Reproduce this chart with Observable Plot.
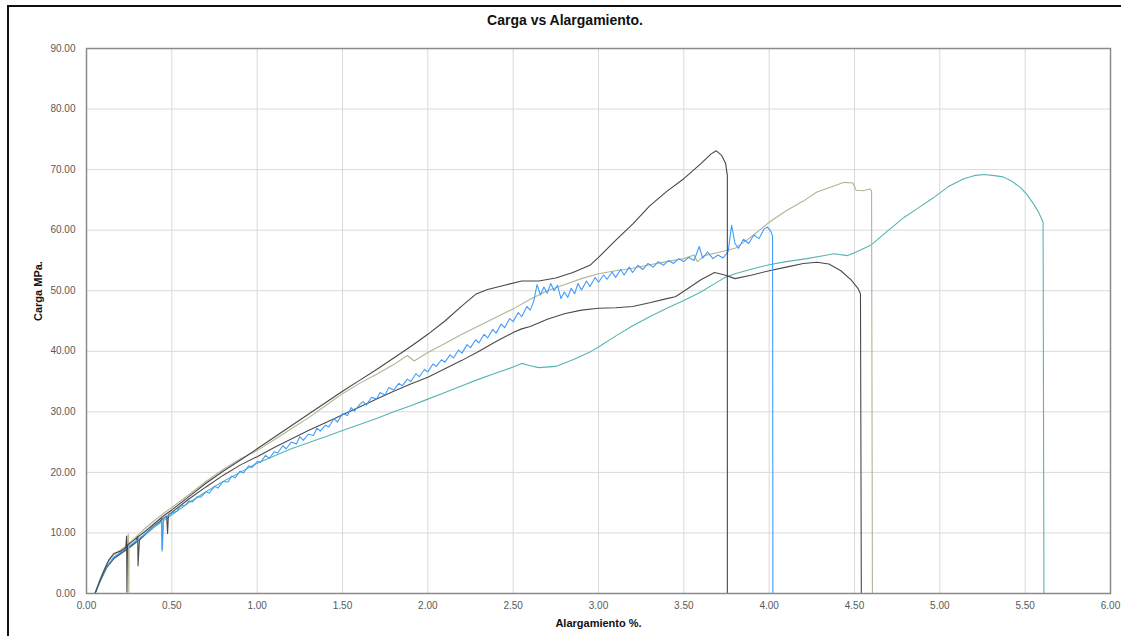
<!DOCTYPE html>
<html>
<head>
<meta charset="utf-8">
<script src="https://cdn.jsdelivr.net/npm/d3@7"></script>
<script src="https://cdn.jsdelivr.net/npm/@observablehq/plot@0.6"></script>
<style>
  html, body { margin: 0; padding: 0; background: #fff; }
  #wrap { position: relative; width: 1121px; height: 636px; overflow: hidden; font-family: "Liberation Sans", Arial, sans-serif; }
  #frameTop { position: absolute; left: 7px; top: 5px; width: 1114px; height: 2px; background: #111; }
  #frameLeft { position: absolute; left: 7px; top: 5px; width: 2px; height: 631px; background: #111; }
  #title { height: 34px; line-height: 40px; text-align: center; font-weight: bold; font-size: 14px; color: #111; padding-left: 9px; }
  #chart svg { display: block; }
</style>
</head>
<body>
<div id="wrap">
  <div id="frameTop"></div>
  <div id="frameLeft"></div>
  <div id="title">Carga vs Alargamiento.</div>
  <div id="chart"></div>
</div>
<script>
const titleText = "Carga vs Alargamiento.";
const xLabel = "Alargamiento %.";
const yLabel = "Carga MPa.";
const xTicks = [0, 0.5, 1, 1.5, 2, 2.5, 3, 3.5, 4, 4.5, 5, 5.5, 6];
const yTicks = [0, 10, 20, 30, 40, 50, 60, 70, 80, 90];

// Probeta con mayor carga (gris oscuro superior)
const serieNegraSup = [[0.05,0],[0.07,1.5],[0.10,3.6],[0.13,5.5],[0.16,6.6],[0.20,7.0],[0.23,7.6],[0.235,9.5],[0.237,0.2],[0.24,8.0],[0.27,8.6],[0.30,9.3],[0.35,10.4],[0.40,11.6],[0.45,12.8],[0.50,13.8],[0.60,16.0],[0.70,18.2],[0.80,20.2],[0.90,22.0],[1.00,23.9],[1.10,25.8],[1.20,27.7],[1.30,29.6],[1.40,31.5],[1.50,33.4],[1.60,35.2],[1.70,37.0],[1.80,38.9],[1.90,40.8],[2.00,42.8],[2.10,45.0],[2.20,47.5],[2.28,49.4],[2.35,50.2],[2.45,50.9],[2.55,51.6],[2.65,51.6],[2.75,52.1],[2.85,53.0],[2.95,54.2],[3.00,55.5],[3.05,56.9],[3.10,58.3],[3.20,61.0],[3.30,64.0],[3.40,66.4],[3.50,68.5],[3.60,71.0],[3.66,72.6],[3.69,73.1],[3.72,72.4],[3.745,71.0],[3.755,69.0],[3.755,0]];

// Probeta caqui
const serieCaqui = [[0.05,0],[0.08,2.5],[0.12,5.0],[0.16,6.4],[0.20,7.2],[0.24,8.0],[0.245,9.8],[0.248,0.2],[0.25,8.3],[0.30,9.6],[0.35,10.9],[0.40,12.1],[0.45,13.2],[0.50,14.2],[0.60,16.3],[0.70,18.5],[0.80,20.5],[0.90,22.2],[1.00,23.6],[1.10,25.4],[1.20,27.2],[1.30,29.0],[1.40,31.0],[1.50,33.0],[1.60,34.7],[1.70,36.2],[1.80,37.8],[1.88,39.3],[1.92,38.4],[2.00,39.8],[2.10,41.3],[2.20,42.8],[2.30,44.2],[2.40,45.6],[2.50,47.0],[2.60,48.6],[2.70,50.0],[2.80,51.0],[2.90,52.0],[3.00,52.8],[3.10,53.3],[3.20,53.7],[3.30,54.3],[3.40,54.8],[3.50,55.3],[3.56,55.9],[3.58,54.8],[3.62,55.8],[3.70,56.3],[3.80,57.0],[3.90,59.0],[4.00,61.3],[4.10,63.2],[4.20,64.8],[4.28,66.3],[4.35,67.0],[4.44,67.9],[4.49,67.8],[4.51,66.6],[4.55,66.5],[4.59,66.8],[4.60,66.5],[4.605,0]];

// Probeta azul (ruidosa)
const serieAzul = [[0.05,0],[0.08,2.0],[0.12,4.5],[0.16,6.0],[0.20,6.8],[0.25,7.8],[0.30,8.9],[0.35,10.0],[0.40,11.2],[0.44,12.0],[0.445,7.3],[0.45,12.3],[0.50,13.3],[0.53,13.6],[0.55,14.4],[0.58,14.6],[0.60,15.3],[0.62,15.1],[0.65,16.0],[0.67,15.9],[0.70,16.8],[0.72,16.6],[0.75,17.7],[0.77,17.4],[0.80,18.5],[0.83,18.4],[0.85,19.4],[0.87,19.1],[0.90,20.2],[0.92,19.9],[0.95,21.1],[0.97,20.8],[1.00,21.8],[1.02,21.7],[1.05,22.8],[1.07,22.3],[1.10,23.4],[1.12,23.2],[1.15,24.4],[1.17,23.9],[1.20,25.0],[1.23,24.7],[1.25,25.9],[1.27,25.3],[1.30,26.3],[1.33,26.1],[1.35,27.3],[1.37,26.8],[1.40,27.8],[1.42,27.5],[1.45,28.9],[1.47,28.3],[1.50,29.7],[1.53,29.4],[1.55,30.7],[1.57,30.1],[1.60,31.2],[1.62,31.7],[1.64,31.1],[1.67,32.4],[1.70,32.1],[1.72,33.2],[1.75,32.8],[1.77,34.0],[1.80,33.6],[1.83,34.7],[1.85,34.3],[1.88,35.4],[1.90,35.0],[1.93,36.3],[1.95,35.8],[1.98,37.0],[2.00,36.6],[2.03,37.9],[2.05,37.5],[2.08,38.6],[2.10,38.2],[2.13,39.4],[2.15,38.9],[2.18,40.2],[2.20,39.7],[2.23,41.1],[2.25,40.6],[2.28,41.9],[2.30,41.4],[2.33,42.8],[2.35,42.2],[2.38,43.6],[2.40,43.0],[2.43,44.5],[2.45,43.9],[2.48,45.4],[2.50,44.9],[2.53,46.4],[2.55,45.7],[2.58,47.4],[2.60,46.8],[2.62,48.2],[2.64,51.0],[2.66,49.3],[2.68,50.6],[2.70,49.6],[2.72,51.2],[2.74,50.0],[2.76,50.9],[2.78,48.7],[2.80,49.8],[2.82,48.9],[2.84,50.4],[2.86,49.5],[2.88,51.2],[2.90,50.1],[2.93,51.6],[2.95,50.7],[2.98,52.2],[3.00,51.4],[3.03,52.6],[3.05,51.9],[3.08,53.1],[3.10,52.2],[3.13,53.5],[3.15,52.6],[3.18,53.9],[3.20,53.0],[3.23,54.2],[3.26,53.5],[3.29,54.5],[3.32,53.9],[3.35,54.8],[3.38,54.2],[3.41,55.0],[3.44,54.5],[3.47,55.3],[3.50,54.8],[3.53,55.5],[3.56,55.0],[3.59,57.3],[3.61,55.4],[3.64,56.4],[3.67,55.3],[3.70,55.9],[3.73,55.4],[3.76,56.5],[3.78,60.8],[3.80,57.8],[3.82,57.0],[3.85,58.5],[3.88,57.8],[3.91,59.2],[3.94,58.6],[3.97,60.2],[3.99,60.5],[4.01,59.8],[4.02,59.0],[4.022,0]];

// Probeta gris oscuro inferior
const serieNegraInf = [[0.05,0],[0.08,2.2],[0.12,4.4],[0.16,5.8],[0.20,6.6],[0.25,7.6],[0.29,8.5],[0.30,9.6],[0.302,4.6],[0.31,8.8],[0.35,10.0],[0.40,11.3],[0.45,12.4],[0.47,12.8],[0.475,9.9],[0.48,13.0],[0.50,13.4],[0.60,15.6],[0.70,17.6],[0.80,19.5],[0.90,21.2],[1.00,22.6],[1.10,24.1],[1.20,25.5],[1.30,26.9],[1.40,28.2],[1.50,29.5],[1.60,30.8],[1.70,32.1],[1.80,33.4],[1.90,34.6],[2.00,35.7],[2.10,37.1],[2.20,38.5],[2.30,40.0],[2.40,41.6],[2.50,43.1],[2.55,43.7],[2.60,44.1],[2.70,45.3],[2.80,46.2],[2.90,46.8],[3.00,47.1],[3.10,47.2],[3.20,47.4],[3.30,48.0],[3.40,48.7],[3.45,49.0],[3.50,49.9],[3.60,51.8],[3.68,53.0],[3.74,52.6],[3.80,52.0],[3.90,52.6],[4.00,53.3],[4.10,53.9],[4.20,54.5],[4.28,54.7],[4.35,54.4],[4.42,53.3],[4.48,51.8],[4.52,50.4],[4.535,49.5],[4.54,0]];

// Probeta turquesa
const serieTurquesa = [[0.05,0],[0.08,2.0],[0.12,4.3],[0.16,5.7],[0.20,6.5],[0.25,7.5],[0.30,8.6],[0.35,9.8],[0.40,11.0],[0.43,11.6],[0.44,12.5],[0.442,7.0],[0.45,12.0],[0.50,13.0],[0.60,15.0],[0.70,16.8],[0.80,18.5],[0.90,20.0],[1.00,21.5],[1.10,22.7],[1.20,23.9],[1.30,24.9],[1.40,25.9],[1.50,26.9],[1.60,27.9],[1.70,28.9],[1.80,30.0],[1.90,31.0],[2.00,32.1],[2.10,33.2],[2.20,34.3],[2.30,35.4],[2.40,36.4],[2.50,37.4],[2.55,38.0],[2.60,37.6],[2.65,37.3],[2.75,37.5],[2.85,38.6],[2.95,39.9],[3.00,40.7],[3.10,42.5],[3.20,44.2],[3.30,45.7],[3.40,47.1],[3.50,48.4],[3.60,49.8],[3.70,51.5],[3.75,52.3],[3.80,52.8],[3.90,53.6],[4.00,54.3],[4.10,54.8],[4.22,55.3],[4.30,55.7],[4.38,56.1],[4.46,55.8],[4.52,56.5],[4.60,57.6],[4.70,60.0],[4.79,62.1],[4.87,63.6],[4.96,65.3],[5.05,67.2],[5.14,68.5],[5.20,69.0],[5.26,69.2],[5.32,69.0],[5.37,68.8],[5.42,68.1],[5.47,67.1],[5.51,65.9],[5.55,64.3],[5.58,62.9],[5.605,61.3],[5.61,0]];

const series = [
  {data: serieTurquesa, color: "#55b5b2"},
  {data: serieNegraInf, color: "#4a4a4a"},
  {data: serieCaqui, color: "#b3b394"},
  {data: serieAzul, color: "#3f9cff"},
  {data: serieNegraSup, color: "#474747"}
];

document.getElementById("title").textContent = titleText;

const lineMarks = series.map(s => Plot.line(s.data, {x: d => d[0], y: d => d[1], stroke: s.color, strokeWidth: 1.1, strokeLinejoin: "round"}));

const chart = Plot.plot({
  width: 1121,
  height: 602,
  marginLeft: 86,
  marginRight: 11,
  marginTop: 14,
  marginBottom: 43,
  style: {fontFamily: "'Liberation Sans Narrow', 'Liberation Sans', Arial, sans-serif", fontSize: "10px", color: "#595959", background: "transparent"},
  x: {domain: [0, 6]},
  y: {domain: [0, 90]},
  marks: [
    Plot.gridX(xTicks, {stroke: "#d9d9d9", strokeOpacity: 1, strokeWidth: 1}),
    Plot.gridY(yTicks, {stroke: "#d9d9d9", strokeOpacity: 1, strokeWidth: 1}),
    Plot.axisX(xTicks, {tickFormat: d => d.toFixed(2), tickSize: 0, tickPadding: 8, label: null, fill: "#595959"}),
    Plot.axisY(yTicks, {tickFormat: d => d.toFixed(2), tickSize: 0, tickPadding: 11, label: null, fill: "#595959"}),
    ...lineMarks,
    Plot.frame({stroke: "#8a8a8a", strokeWidth: 1.5}),
    Plot.text([xLabel], {frameAnchor: "bottom", dy: 33, fontWeight: "bold", fontSize: 11, fill: "#111", fontFamily: "'Liberation Sans', Arial, sans-serif"}),
    Plot.text([yLabel], {frameAnchor: "left", dx: -48, rotate: -90, fontWeight: "bold", fontSize: 11, fill: "#111", fontFamily: "'Liberation Sans', Arial, sans-serif"})
  ]
});
document.getElementById("chart").appendChild(chart);
</script>
</body>
</html>
